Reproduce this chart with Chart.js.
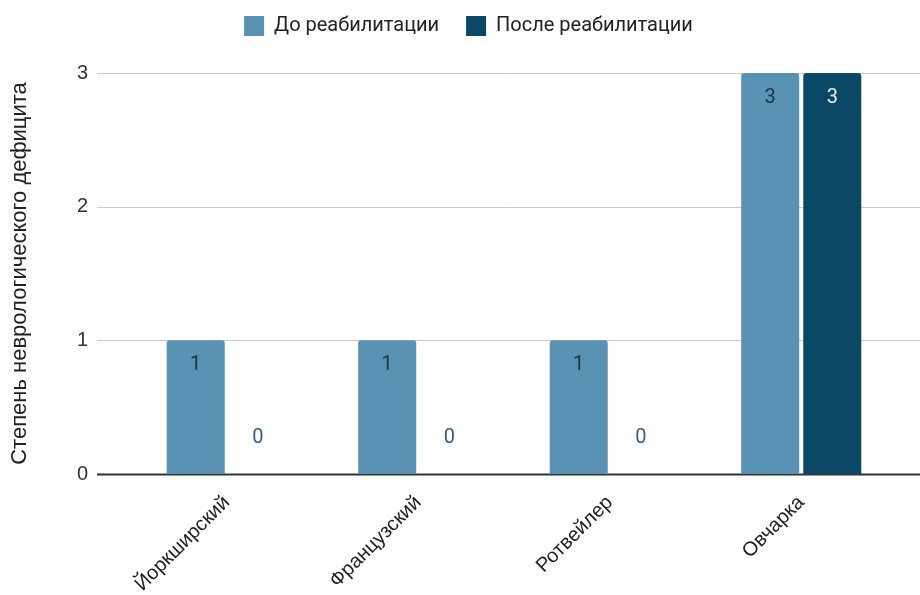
<!DOCTYPE html>
<html>
<head>
<meta charset="utf-8">
<script src="https://cdn.jsdelivr.net/npm/chart.js@4.4.0/dist/chart.umd.min.js"></script>
<style>
    html, body { margin: 0; padding: 0; background: #fff; }
    #wrap { width: 920px; height: 595px; }
</style>
</head>
<body>
<div id="wrap"><canvas id="myChart"></canvas></div>
<script>
// data
const breeds = ['Йоркширский', 'Французский', 'Ротвейлер', 'Овчарка'];
const beforeRehab = [1, 1, 1, 3];
const afterRehab = [0, 0, 0, 3];
const yTicks = [0, 1, 2, 3];

const lightBlue = 'rgb(89,146,179)';
const darkBlue = 'rgb(10,72,102)';

// legend gets a fixed height so the plot starts where it does in the picture,
// and it is centred a bit to the right like the original
const legendBox = {
    id: 'legendBox',
    beforeInit(chart) {
        const fit = chart.legend.fit;
        chart.legend.fit = function () {
            fit.bind(chart.legend)();
            this.height = 84;
        };
    },
    afterLayout(chart) {
        chart.legend.left += 40;
    }
};

// horizontal grid lines run further left and right than the bar area
const wideGrid = {
    id: 'wideGrid',
    beforeDatasetsDraw(chart) {
        const ctx = chart.ctx;
        const y = chart.scales.y;
        ctx.save();
        yTicks.forEach(function (v) {
            const py = Math.round(y.getPixelForValue(v)) + 0.5;
            ctx.beginPath();
            ctx.lineWidth = v === 0 ? 2 : 1;
            ctx.strokeStyle = v === 0 ? '#333' : '#cccccc';
            ctx.moveTo(chart.chartArea.left - 34, py);
            ctx.lineTo(chart.width, py);
            ctx.stroke();
        });
        ctx.restore();
    }
};

// value labels inside / above the bars
const valueLabels = {
    id: 'valueLabels',
    afterDatasetsDraw(chart) {
        const ctx = chart.ctx;
        ctx.save();
        ctx.font = '20px Roboto';
        ctx.textAlign = 'center';
        ctx.textBaseline = 'middle';
        chart.data.datasets.forEach(function (ds, i) {
            chart.getDatasetMeta(i).data.forEach(function (bar, j) {
                const v = ds.data[j];
                const p = bar.getProps(['x', 'y', 'base'], true);
                if (v > 0) {
                    ctx.fillStyle = i === 0 ? '#1c3448' : '#e6eef3';
                    ctx.fillText(String(v), p.x, p.y + 25);
                } else {
                    ctx.fillStyle = '#34607e';
                    ctx.fillText(String(v), p.x, p.base - 36);
                }
            });
        });
        ctx.restore();
    }
};

const ctx = document.getElementById('myChart').getContext('2d');
const myChart = new Chart(ctx, {
    type: 'bar',
    data: {
        labels: breeds,
        datasets: [{
            label: 'До реабилитации',
            data: beforeRehab,
            backgroundColor: lightBlue,
            borderRadius: 3,
            categoryPercentage: 0.648,
            barPercentage: 0.935
        },
        {
            label: 'После реабилитации',
            data: afterRehab,
            backgroundColor: darkBlue,
            borderRadius: 3,
            categoryPercentage: 0.648,
            barPercentage: 0.935
        }]
    },
    options: {
        responsive: true,
        maintainAspectRatio: false,
        animation: false,
        layout: {
            padding: { top: -11, right: 23, bottom: 0, left: 0 }
        },
        plugins: {
            legend: {
                position: 'top',
                labels: {
                    boxWidth: 20,
                    boxHeight: 20,
                    padding: 27,
                    color: '#222',
                    font: { family: 'Roboto', size: 20 }
                }
            },
            tooltip: { enabled: false }
        },
        scales: {
            x: {
                grid: { display: false },
                border: { display: false },
                ticks: {
                    minRotation: 45,
                    maxRotation: 45,
                    padding: 9,
                    color: '#222',
                    font: { family: 'Liberation Sans', size: 20 }
                },
                afterFit(scale) { scale.height = 121; }
            },
            y: {
                min: 0,
                max: 3,
                grid: { display: false },
                border: { display: false },
                ticks: {
                    stepSize: 1,
                    padding: 35,
                    color: '#333',
                    font: { family: 'Liberation Sans', size: 20 }
                },
                title: {
                    display: true,
                    text: 'Степень неврологического дефицита',
                    color: '#222',
                    padding: { top: 7, bottom: 0 },
                    font: { family: 'Liberation Sans', size: 22 }
                },
                afterFit(scale) { scale.width = 131; }
            }
        }
    },
    plugins: [legendBox, wideGrid, valueLabels]
});
</script>
</body>
</html>
